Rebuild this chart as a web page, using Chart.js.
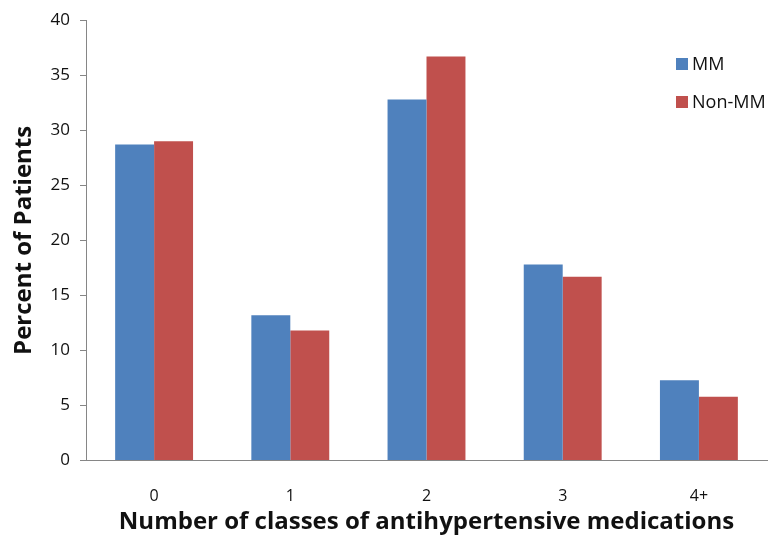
<!DOCTYPE html>
<html>
<head>
<meta charset="utf-8">
<script src="https://cdn.jsdelivr.net/npm/chart.js@4.4.0/dist/chart.umd.min.js"></script>
<style>
html,body{margin:0;padding:0;background:#fff;}
#wrap{width:768px;height:539px;position:relative;}
</style>
</head>
<body>
<div id="wrap"><canvas id="c" width="768" height="539"></canvas></div>
<script>
const categories = ["0", "1", "2", "3", "4+"];
const mmValues = [28.7, 13.2, 32.8, 17.8, 7.3];
const nonMmValues = [29.0, 11.8, 36.7, 16.7, 5.8];
const seriesLabels = ["MM", "Non-MM"];
const seriesColors = ["#4F81BD", "#C0504D"];
const yTitle = "Percent of Patients";
const xTitle = "Number of classes of antihypertensive medications";

const FONT = "'Open Sans', 'Noto Sans', sans-serif";

const legendPlugin = {
  id: 'customLegend',
  afterDraw(chart) {
    const ctx = chart.ctx;
    ctx.save();
    ctx.font = "18px " + FONT;
    ctx.textBaseline = 'middle';
    ctx.textAlign = 'left';
    chart.data.datasets.forEach((ds, i) => {
      const y = 64 + i * 38;
      ctx.fillStyle = ds.backgroundColor;
      ctx.fillRect(676, y - 6, 12, 12);
      ctx.fillStyle = '#111';
      ctx.fillText(ds.label, 692, y + 1);
    });
    ctx.restore();
  }
};

new Chart(document.getElementById('c'), {
  type: 'bar',
  data: {
    labels: categories,
    datasets: [
      { label: seriesLabels[0], data: mmValues, backgroundColor: seriesColors[0] },
      { label: seriesLabels[1], data: nonMmValues, backgroundColor: seriesColors[1] }
    ]
  },
  options: {
    responsive: false,
    animation: false,
    devicePixelRatio: 1,
    layout: { padding: { left: 0, right: 1, top: 7, bottom: 0 } },
    datasets: { bar: { categoryPercentage: 0.572, barPercentage: 1.0 } },
    plugins: {
      legend: { display: false },
      tooltip: { enabled: false }
    },
    scales: {
      x: {
        grid: { display: false },
        border: { display: true, color: '#868686', width: 1 },
        ticks: { color: '#111', font: { family: FONT, size: 16 }, padding: 18 },
        title: { display: true, text: xTitle, color: '#111', font: { family: FONT, size: 24, weight: 'bold' }, padding: { top: 2, bottom: 2 } },
        afterFit(scale) { scale.height = 78.5; }
      },
      y: {
        min: 0, max: 40,
        ticks: { stepSize: 5, color: '#111', font: { family: FONT, size: 17 }, padding: 10 },
        grid: { display: true, drawOnChartArea: false, drawTicks: true, tickLength: 6, color: '#868686' },
        border: { display: true, color: '#868686', width: 1 },
        title: { display: true, text: yTitle, color: '#111', font: { family: FONT, size: 24, weight: 'bold' }, padding: { top: 10, bottom: 0 } },
        afterFit(scale) { scale.width = 86; }
      }
    }
  },
  plugins: [legendPlugin]
});
</script>
</body>
</html>
